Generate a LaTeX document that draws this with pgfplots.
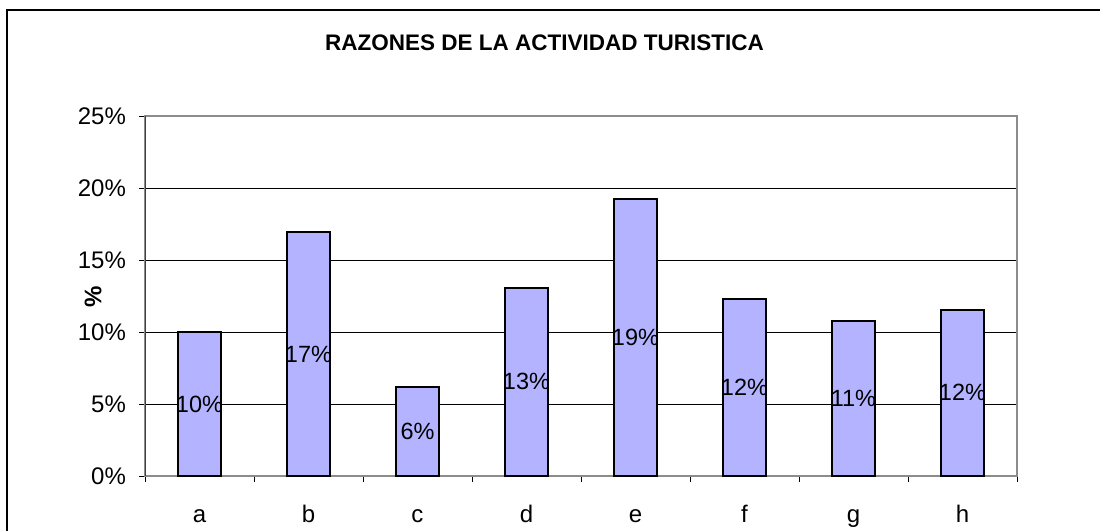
\documentclass[border=0pt]{standalone}
\usepackage{pgfplots}
\pgfplotsset{compat=1.18}
\usepackage{fontspec}
\setmainfont{Liberation Sans}
\definecolor{barfill}{HTML}{B3B3FF}
\definecolor{frameg}{HTML}{8C8C8C}
\definecolor{darkax}{HTML}{404040}
\pgfplotstableread{
x v lab
0 10.00 10
1 16.94 17
2 6.17 6
3 13.08 13
4 19.24 19
5 12.31 12
6 10.79 11
7 11.55 12
}\datatab
\begin{document}
\begin{tikzpicture}[x=0.5pt,y=0.5pt]
\useasboundingbox (0,0) rectangle (1100,531);
\draw[black, line width=0.6pt] (7,-5) -- (7,521) -- (1105,521);
\node[font=\bfseries\fontsize{11.25}{13}\selectfont] at (544.5,488) {RAZONES DE LA ACTIVIDAD TURISTICA};
\node[font=\bfseries\fontsize{12}{13}\selectfont, rotate=90] at (93,234) {\%};
\begin{axis}[
  at={(72.5pt,27.5pt)}, anchor=south west, scale only axis,
  width=436pt, height=180pt,
  xmin=-0.5, xmax=7.5, ymin=0, ymax=25,
  /pgf/number format/assume math mode=true,
  ytick={0,5,...,25},
  yticklabel={\pgfmathprintnumber{\tick}\%},
  ymajorgrids,
  major grid style={black, line width=0.5pt},
  xtick={-0.5,0.5,...,7.5},
  xticklabels={},
  extra x ticks={0,...,7},
  extra x tick labels={a,b,c,d,e,f,g,h},
  extra x tick style={major tick length=0pt, grid=none, xticklabel style={yshift=-10.5pt}},
  typeset ticklabels with strut,
  xtick pos=bottom, ytick pos=left,
  tick align=outside,
  major tick length=3pt,
  tick style={black, line width=0.5pt},
  ticklabel style={font=\fontsize{12}{13}\selectfont},
  yticklabel style={xshift=-3pt},
  axis line style={draw=frameg, line width=1pt},
  ybar, bar width=0.4,
  visualization depends on=rawy \as \rawy,
  nodes near coords={\pgfplotspointmeta\%},
  point meta=explicit symbolic,
  every node near coord/.append style={anchor=center, font=\fontsize{11.75}{13}\selectfont, shift={(axis direction cs:0,-\rawy/2)}},
]
\addplot[fill=barfill, draw=black, line width=1.1pt] table[x=x, y=v, meta=lab] {\datatab};
\draw[darkax, line width=1pt] (rel axis cs:0,0) -- (rel axis cs:0,1);
\end{axis}
\end{tikzpicture}
\end{document}
